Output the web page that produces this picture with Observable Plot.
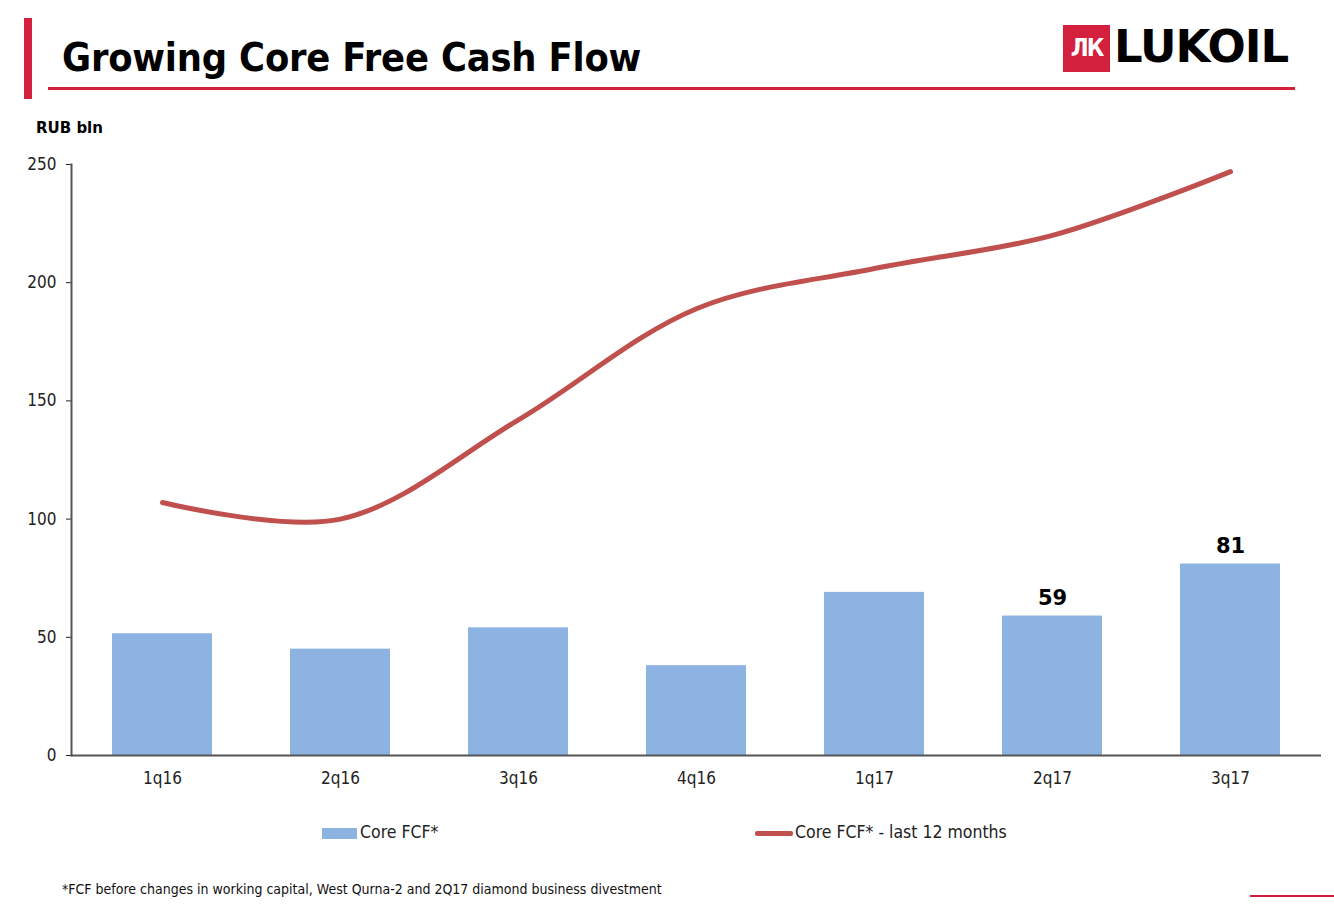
<!DOCTYPE html>
<html>
<head>
<meta charset="utf-8">
<script src="https://cdn.jsdelivr.net/npm/d3@7"></script>
<script src="https://cdn.jsdelivr.net/npm/@observablehq/plot@0.6"></script>
<style>
  html, body { margin: 0; padding: 0; background: #fff; }
  body { width: 1334px; height: 916px; position: relative; overflow: hidden; font-family: "DejaVu Sans", sans-serif; color: #111; }
  .abs { position: absolute; }
  #vbar { left: 24px; top: 18px; width: 8px; height: 81px; background: #d3203d; }
  #title { left: 62px; top: 34px; font-size: 39.4px; font-weight: bold; font-family: "DejaVu Sans Condensed", "DejaVu Sans", sans-serif; color: #000; white-space: nowrap; letter-spacing: -0.2px; }
  #hline { left: 48px; top: 87px; width: 1247px; height: 3px; background: #d3203d; }
  #logoBox { left: 1063px; top: 25px; width: 47px; height: 47px; background: #d3203d; color: #fff; font-weight: bold; font-size: 24px; line-height: 47px; text-align: center; font-family: "DejaVu Sans Condensed", "DejaVu Sans", sans-serif; letter-spacing: -2px; }
  #logoText { left: 1114px; top: 20px; font-size: 45px; font-weight: bold; color: #000; font-family: "DejaVu Sans", sans-serif; letter-spacing: -1px; }
  #unit { left: 36px; top: 119px; font-size: 15px; font-weight: bold; color: #000; }
  #chart { left: 0; top: 140px; }
  .leg { font-size: 17.5px; color: #222; font-family: "DejaVu Sans Condensed", "DejaVu Sans", sans-serif; white-space: nowrap; }
  #legSw1 { left: 322px; top: 828px; width: 35px; height: 11px; background: #8db3e2; }
  #legTx1 { left: 360px; top: 822px; }
  #legSw2 { left: 755px; top: 831px; width: 38px; height: 5px; background: #c0504d; border-radius: 2px; }
  #legTx2 { left: 795px; top: 822px; }
  #foot { left: 62px; top: 881px; font-size: 14px; color: #111; font-family: "DejaVu Sans Condensed", "DejaVu Sans", sans-serif; white-space: nowrap; }
  #brline { left: 1250px; top: 895px; width: 84px; height: 2px; background: #d3203d; }
</style>
</head>
<body>
<div id="vbar" class="abs"></div>
<div id="title" class="abs">Growing Core Free Cash Flow</div>
<div id="hline" class="abs"></div>
<div id="logoBox" class="abs">ЛК</div>
<div id="logoText" class="abs">LUKOIL</div>
<div id="unit" class="abs">RUB bln</div>
<div id="chart" class="abs"></div>
<div id="legSw1" class="abs"></div>
<div id="legTx1" class="abs leg">Core FCF*</div>
<div id="legSw2" class="abs"></div>
<div id="legTx2" class="abs leg">Core FCF* - last 12 months</div>
<div id="foot" class="abs">*FCF before changes in working capital, West Qurna-2 and 2Q17 diamond business divestment</div>
<div id="brline" class="abs"></div>
<script>
const quarters = ["1q16", "2q16", "3q16", "4q16", "1q17", "2q17", "3q17"];
const coreFcf = [51.5, 45, 54, 38, 69, 59, 81];
const coreFcfLtm = [107, 100, 142, 189, 206, 220, 247];
const labelledQuarters = ["2q17", "3q17"];
const yTicks = [0, 50, 100, 150, 200, 250];

const data = quarters.map((q, i) => ({q, fcf: coreFcf[i], ltm: coreFcfLtm[i]}));
const labelData = data.filter(d => labelledQuarters.includes(d.q));

const chart = Plot.plot({
  width: 1334,
  height: 655,
  marginLeft: 71,
  marginRight: 13,
  marginTop: 24,
  marginBottom: 40,
  style: {fontFamily: "DejaVu Sans Condensed, DejaVu Sans, sans-serif", fontSize: "17px", color: "#222", background: "transparent"},
  x: {domain: quarters, paddingInner: 0.44, paddingOuter: 0.22, label: null, tickSize: 0, tickPadding: 16},
  y: {domain: [0, 250], ticks: yTicks, label: null, tickSize: 5, tickPadding: 10},
  marks: [
    Plot.barY(data, {x: "q", y: "fcf", fill: "#8db3e2"}),
    Plot.line(data, {x: "q", y: "ltm", stroke: "#c0504d", strokeWidth: 5, curve: "catmull-rom", strokeLinecap: "round"}),
    Plot.text(labelData, {x: "q", y: "fcf", text: d => String(d.fcf), dy: -11, lineAnchor: "bottom", fontWeight: "bold", fontSize: 21, fill: "#000", fontFamily: "DejaVu Sans, sans-serif"}),
    Plot.ruleY([0], {stroke: "#555", strokeWidth: 2}),
    Plot.frame({anchor: "left", stroke: "#555", strokeWidth: 2})
  ]
});
document.getElementById("chart").appendChild(chart);
</script>
</body>
</html>
